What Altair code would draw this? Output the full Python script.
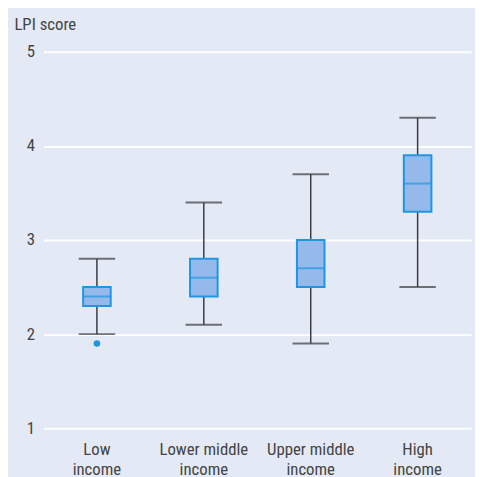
import altair as alt
import pandas as pd

categories = ["Low income", "Lower middle income", "Upper middle income", "High income"]
whisker_low = [2.0, 2.1, 1.9, 2.5]
q1 = [2.3, 2.4, 2.5, 3.3]
median = [2.4, 2.6, 2.7, 3.6]
q3 = [2.5, 2.8, 3.0, 3.9]
whisker_high = [2.8, 3.4, 3.7, 4.3]

outlier_cat = ["Low income"]
outlier_val = [1.9]

df = pd.DataFrame({
    "group": categories,
    "lo": whisker_low,
    "q1": q1,
    "med": median,
    "q3": q3,
    "hi": whisker_high,
})
out_df = pd.DataFrame({"group": outlier_cat, "val": outlier_val})

FONT = "Liberation Sans Narrow, Roboto Condensed, Liberation Sans, sans-serif"
BLUE = "#1f96e3"
FILL = "#95b9ea"
WHISK = "#3a3b42"
TXT = "#444444"

x = alt.X(
    "group:N",
    sort=categories,
    scale=alt.Scale(paddingInner=0, paddingOuter=0),
    axis=alt.Axis(
        title=None,
        labelAngle=0,
        domain=False,
        ticks=False,
        labelPadding=14,
        labelFontSize=17,
        labelLineHeight=20,
        labelColor=TXT,
        labelFont=FONT,
        labelExpr="[replace(datum.label, ' income', ''), 'income']",
    ),
)

yscale = alt.Scale(domain=[1, 5], nice=False, zero=False)
yaxis = alt.Axis(
    values=[1, 2, 3, 4, 5],
    format="d",
    title="LPI score",
    titleAngle=0,
    titleAlign="left",
    titleBaseline="alphabetic",
    titleX=-30,
    titleY=-23,
    titleFontSize=17,
    titleFontWeight="normal",
    titleColor=TXT,
    titleFont=FONT,
    domain=False,
    ticks=False,
    labelPadding=9,
    labelFontSize=17,
    labelColor=TXT,
    labelFont=FONT,
    grid=True,
    gridColor="#ffffff",
    gridWidth=2,
)

base = alt.Chart(df)

whisk = base.mark_rule(color=WHISK, strokeWidth=1.5).encode(
    x=x,
    y=alt.Y("lo:Q", scale=yscale, axis=yaxis),
    y2="hi:Q",
)
cap_lo = base.mark_tick(color=WHISK, size=37, thickness=2).encode(
    x=x, y=alt.Y("lo:Q", scale=yscale)
)
cap_hi = base.mark_tick(color=WHISK, size=37, thickness=2).encode(
    x=x, y=alt.Y("hi:Q", scale=yscale)
)
box = base.mark_bar(size=28, fill=FILL, stroke=BLUE, strokeWidth=2).encode(
    x=x, y=alt.Y("q1:Q", scale=yscale), y2="q3:Q"
)
med = base.mark_tick(color=BLUE, size=28, thickness=2).encode(
    x=x, y=alt.Y("med:Q", scale=yscale)
)
pts = alt.Chart(out_df).mark_point(filled=True, color=BLUE, size=45, opacity=1).encode(
    x=x, y=alt.Y("val:Q", scale=yscale)
)

chart = (
    alt.layer(whisk, cap_lo, cap_hi, box, med, pts)
    .properties(
        width=434,
        height=382,
        background="#e3e9f5",
        autosize=alt.AutoSizeParams(type="none"),
        padding={"left": 36, "top": 41, "right": 4, "bottom": 46},
    )
    .configure_view(stroke=None)
)

chart.save("out.html", embed_options={"renderer": "svg", "actions": False})
